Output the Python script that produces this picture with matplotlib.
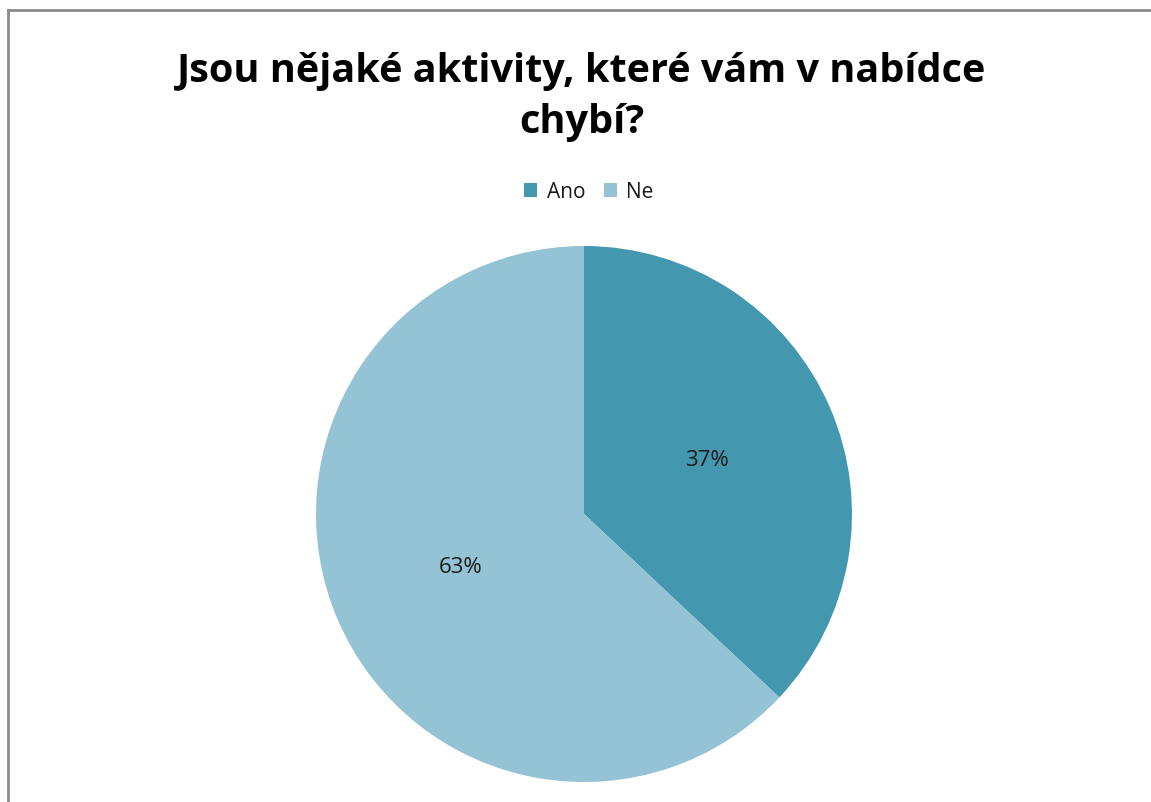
import matplotlib
matplotlib.use("Agg")
import matplotlib.pyplot as plt
from matplotlib.lines import Line2D

categories = ["Ano", "Ne"]
shares = [37, 63]
colors = ["#4398B0", "#93C3D5"]
title = "Jsou nějaké aktivity, které vám v nabídce\nchybí?"

W, H = 1151, 802
fig = plt.figure(figsize=(W / 100, H / 100), dpi=100)
fig.patch.set_facecolor("white")

# pie placement in pixels (center and radius)
cx, cy, r = 584, 514, 268
ax = fig.add_axes([(cx - r) / W, (H - cy - r) / H, 2 * r / W, 2 * r / H])
wedges, _, autotexts = ax.pie(
    shares, colors=colors, startangle=90, counterclock=False,
    autopct="%.0f%%", pctdistance=0.5, radius=1.0,
    textprops=dict(fontsize=16, color="#1a1a1a", family="Open Sans"),
    wedgeprops=dict(linewidth=0),
)
ax.set_xlim(-1, 1)
ax.set_ylim(-1, 1)
ax.set_aspect("equal")
ax.axis("off")

fig.text(582 / W, 1 - 97 / H, title, ha="center", va="center",
         fontsize=28.5, fontweight="bold", family="Open Sans", color="black",
         linespacing=1.38)

leg = fig.legend(wedges, categories, loc="center", bbox_to_anchor=(589 / W, 1 - 192 / H),
                 ncol=2, frameon=False, prop=dict(family="Open Sans", size=15),
                 handlelength=0.62, handleheight=0.62, handletextpad=0.45,
                 columnspacing=0.9)
for t in leg.get_texts():
    t.set_color("#1a1a1a")

# chart frame (left and top edges)
x0 = 8 / W
y0 = 1 - 10 / H
fig.add_artist(Line2D([x0, x0], [0, y0], transform=fig.transFigure, color="#8c8c8c", lw=2))
fig.add_artist(Line2D([x0, 1], [y0, y0], transform=fig.transFigure, color="#8c8c8c", lw=2))

fig.savefig("out.png", dpi=100, facecolor="white")
